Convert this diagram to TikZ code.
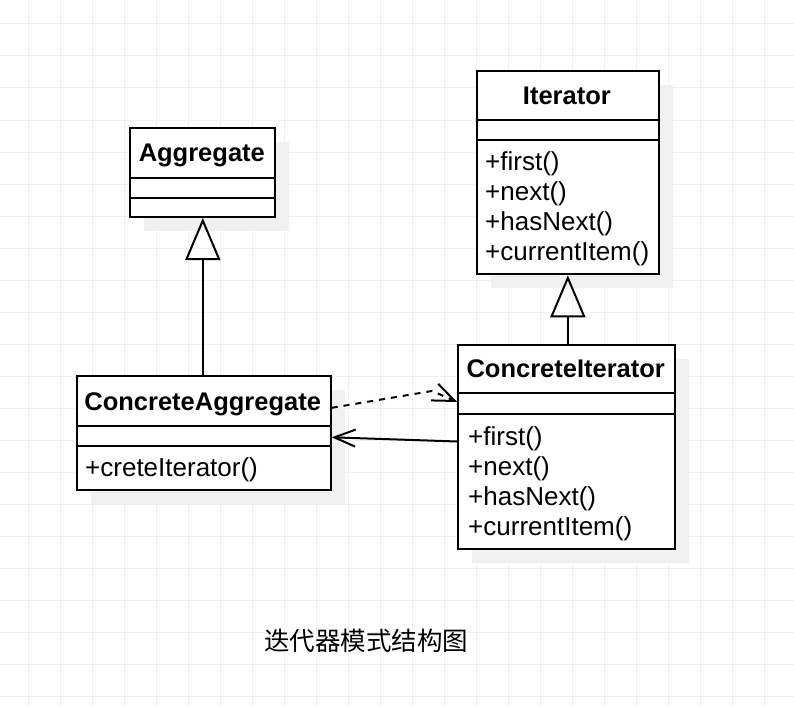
\documentclass[tikz,border=0pt]{standalone}
\usepackage{fontspec}
\setmainfont{Liberation Sans}
\newfontfamily\cjk{Noto Sans CJK SC}
\usetikzlibrary{arrows.meta,calc,shadows}
\definecolor{gridc}{RGB}{240,240,240}
\definecolor{shadowc}{RGB}{240,240,240}
\begin{document}
\begin{tikzpicture}[x=1pt,y=-1pt,
  umlbox/.style={draw=black,line width=2pt,fill=white,inner sep=0pt,anchor=north west,
    drop shadow={shadow xshift=14pt,shadow yshift=-14pt,opacity=1,fill=shadowc}},
  sepline/.style={draw=black,line width=2pt},
  hdr/.style={font=\fontsize{25.5}{30}\bfseries\selectfont,inner sep=0pt,anchor=base},
  mth/.style={font=\fontsize{26}{30}\selectfont,inner sep=0pt,anchor=base west},
  gen/.style={draw=black,line width=2pt,-{Triangle[open,length=42pt,width=35pt]}},
  dep/.style={draw=black,line width=2pt,dash pattern=on 6pt off 6pt,line join=miter,-{Straight Barb[length=22pt,width=18pt]}},
  assoc/.style={draw=black,line width=2pt,-{Straight Barb[length=21pt,width=17pt]}},
  gridline/.style={draw=gridc,line width=1pt}]
\useasboundingbox (0,0) rectangle (794,706);
\fill[white] (0,0) rectangle (794,706);
\foreach \i in {0,...,23} \draw[gridline] ({28+32*\i},0) -- ({28+32*\i},706);
\foreach \j in {0,...,21} \draw[gridline] (0,{24+32*\j}) -- (794,{24+32*\j});

% Aggregate
\node[umlbox,minimum width=145pt,minimum height=88.7pt] (agg) at (129.3,127.3) {};
\draw[sepline] ($(agg.north west)+(0,50.4)$) -- ($(agg.north east)+(0,50.4)$);
\draw[sepline] ($(agg.north west)+(0,70.4)$) -- ($(agg.north east)+(0,70.4)$);
\node[hdr] (aggt) at (201.8,161.5) {Aggregate};

% Iterator
\node[umlbox,minimum width=182.3pt,minimum height=203.3pt] (it) at (475.7,70) {};
\draw[sepline] ($(it.north west)+(0,50.3)$) -- ($(it.north east)+(0,50.3)$);
\draw[sepline] ($(it.north west)+(0,69.7)$) -- ($(it.north east)+(0,69.7)$);
\node[hdr] (itt) at (566.9,104.5) {Iterator};
\node[mth] (itm1) at (485,170.5) {+first()};
\node[mth] (itm2) at (485,200.5) {+next()};
\node[mth] (itm3) at (485,230.5) {+hasNext()};
\node[mth] (itm4) at (485,260.5) {+currentItem()};

% ConcreteAggregate
\node[umlbox,minimum width=254pt,minimum height=114pt] (ca) at (75.7,375.3) {};
\draw[sepline] ($(ca.north west)+(0,50.4)$) -- ($(ca.north east)+(0,50.4)$);
\draw[sepline] ($(ca.north west)+(0,70.4)$) -- ($(ca.north east)+(0,70.4)$);
\node[hdr] (cat) at (202.7,410) {ConcreteAggregate};
\node[mth] (cam1) at (85,476.3) {+creteIterator()};

% ConcreteIterator
\node[umlbox,minimum width=216.7pt,minimum height=203.7pt] (ci) at (457.3,344) {};
\draw[sepline] ($(ci.north west)+(0,49.3)$) -- ($(ci.north east)+(0,49.3)$);
\draw[sepline] ($(ci.north west)+(0,69.7)$) -- ($(ci.north east)+(0,69.7)$);
\node[hdr] (cit) at (565.7,377.7) {ConcreteIterator};
\node[mth] (cim1) at (468,445) {+first()};
\node[mth] (cim2) at (468,475) {+next()};
\node[mth] (cim3) at (468,505) {+hasNext()};
\node[mth] (cim4) at (468,535) {+currentItem()};

% connectors
\draw[gen] (agg.south |- ca.north) -- (agg.south);
\draw[gen] (it.south |- ci.north) -- (it.south);
\coordinate (bend) at (432,391);
\draw[dep] ([yshift=-32.5pt]ca.north east) -- (bend) -- ([yshift=-58pt]ci.north west);
\draw[assoc] ([yshift=-97.5pt]ci.north west) -- ([yshift=-62pt]ca.north east);

% title
\node[inner sep=0pt,anchor=base,font=\cjk\fontsize{25.5}{30}\selectfont] (title) at (366,650) {迭代器模式结构图};
\end{tikzpicture}
\end{document}
